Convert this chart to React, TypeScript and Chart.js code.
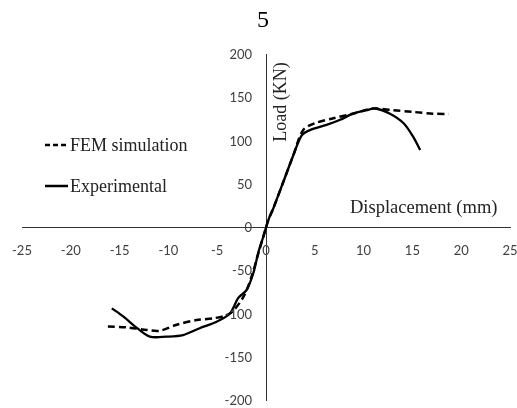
import React, { useEffect, useRef } from "react";
import { Chart, registerables } from "chart.js";

Chart.register(...registerables);

// FEM simulation (dashed)
const femX = [-16.2, -14.3, -12.2, -10.9, -9.15, -7.1, -5.4, -3.7, -2.3, -1.5, -0.8, -0.27, 0.24, 0.75, 1.77, 2.8, 3.8, 5.0, 6.9, 8.9, 11.0, 13.0, 15.1, 17.1, 18.7];
const femY = [-115, -116, -119, -120, -113, -107.5, -105.6, -100, -80.6, -58, -31, -11, 8, 21.6, 52, 83, 112, 120, 125.7, 131, 137, 135, 133, 131, 130.6];

// Experimental (solid)
const expX = [-15.8, -14.6, -13.2, -11.9, -10.2, -8.5, -6.8, -5.05, -3.7, -2.84, -2.0, -1.3, -0.8, -0.27, 0.24, 0.75, 1.77, 2.8, 3.66, 4.5, 6.2, 7.6, 8.9, 10.3, 11.2, 12.7, 14.1, 15.1, 15.8];
const expY = [-94, -103.7, -117, -126.8, -126.8, -125, -117, -109.5, -100, -82, -73, -53.5, -30, -11, 8, 21.6, 52, 83, 106, 112, 118, 124, 131, 135, 137, 131, 120, 104, 89];

const xTicks = [-25, -20, -15, -10, -5, 0, 5, 10, 15, 20, 25];
const yTicks = [-200, -150, -100, -50, 0, 50, 100, 150, 200];

const titleText = "5";
const xTitle = "Displacement (mm)";
const yTitle = "Load (KN)";
const legendLabels = ["FEM simulation", "Experimental"];

const toPts = (xs: number[], ys: number[]) => xs.map((x, i) => ({ x, y: ys[i] }));

const SERIF = "'Liberation Serif', 'Times New Roman', serif";
const TICKFONT = "Lato, 'Open Sans', sans-serif";

const textPlugin = {
  id: "extraText",
  afterDraw(chart: any) {
    const { ctx } = chart;
    const xs = chart.scales.x;
    const ys = chart.scales.y;
    const x0 = xs.getPixelForValue(0);
    const y0 = ys.getPixelForValue(0);
    ctx.save();

    // tick labels
    ctx.fillStyle = "#404040";
    ctx.font = `13px ${TICKFONT}`;
    ctx.textBaseline = "middle";
    ctx.textAlign = "center";
    xTicks.forEach((v) => {
      ctx.fillText(String(v), xs.getPixelForValue(v), y0 + 24);
    });
    ctx.textAlign = "right";
    yTicks.forEach((v) => {
      ctx.fillText(String(v), x0 - 14, ys.getPixelForValue(v) + 1);
    });

    // title
    ctx.fillStyle = "#000";
    ctx.font = `24px ${SERIF}`;
    ctx.textAlign = "center";
    ctx.textBaseline = "middle";
    ctx.fillText(titleText, 263, 21);

    // legend
    ctx.font = `18px ${SERIF}`;
    ctx.textAlign = "left";
    ctx.fillStyle = "#222";
    const legY = [145, 186];
    const lx0 = 45, lx1 = 68;
    ctx.strokeStyle = "#000";
    ctx.lineWidth = 2.5;
    ctx.setLineDash([5, 3]);
    ctx.beginPath();
    ctx.moveTo(lx0, legY[0]);
    ctx.lineTo(lx1, legY[0]);
    ctx.stroke();
    ctx.setLineDash([]);
    ctx.beginPath();
    ctx.moveTo(lx0, legY[1]);
    ctx.lineTo(lx1, legY[1]);
    ctx.stroke();
    ctx.fillText(legendLabels[0], 70, legY[0] + 1);
    ctx.fillText(legendLabels[1], 70, legY[1] + 1);

    // x title
    ctx.font = `18.5px ${SERIF}`;
    ctx.fillStyle = "#222";
    ctx.textAlign = "left";
    ctx.textBaseline = "middle";
    ctx.fillText(xTitle, 350, y0 - 19);

    // y title
    ctx.font = `18px ${SERIF}`;
    ctx.translate(x0 + 15, 102);
    ctx.rotate(-Math.PI / 2);
    ctx.textAlign = "center";
    ctx.fillText(yTitle, 0, 0);
    ctx.restore();
  },
};

export default function App() {
  const ref = useRef<HTMLCanvasElement | null>(null);
  useEffect(() => {
    if (!ref.current) return;
    const chart = new Chart(ref.current, {
      type: "scatter",
      data: {
        datasets: [
          {
            label: legendLabels[0],
            data: toPts(femX, femY),
            showLine: true,
            borderColor: "#000",
            borderWidth: 2.5,
            borderDash: [7, 4],
            pointRadius: 0,
            tension: 0.3,
            fill: false,
          },
          {
            label: legendLabels[1],
            data: toPts(expX, expY),
            showLine: true,
            borderColor: "#000",
            borderWidth: 2.3,
            pointRadius: 0,
            tension: 0.3,
            fill: false,
          },
        ],
      },
      options: {
        animation: false,
        responsive: true,
        maintainAspectRatio: false,
        layout: { padding: { left: 22, right: 7, top: 54, bottom: 8 } },
        plugins: {
          legend: { display: false },
          tooltip: { enabled: false },
          title: { display: false },
        },
        scales: {
          x: {
            type: "linear",
            min: -25,
            max: 25,
            position: { y: 0 } as any,
            afterBuildTicks: (s: any) => {
              s.ticks = xTicks.map((v) => ({ value: v }));
            },
            grid: { display: false, drawTicks: false },
            border: { display: true, color: "#333", width: 1 },
            ticks: { display: false },
          },
          y: {
            type: "linear",
            min: -200,
            max: 200,
            position: { x: 0 } as any,
            afterBuildTicks: (s: any) => {
              s.ticks = yTicks.map((v) => ({ value: v }));
            },
            grid: { display: false, drawTicks: false },
            border: { display: true, color: "#333", width: 1 },
            ticks: { display: false },
          },
        },
      },
      plugins: [textPlugin],
    });
    return () => chart.destroy();
  }, []);
  return (
    <div style={{ position: "absolute", left: 0, top: 0, width: 517, height: 408, background: "#fff" }}>
      <canvas ref={ref} />
    </div>
  );
}
